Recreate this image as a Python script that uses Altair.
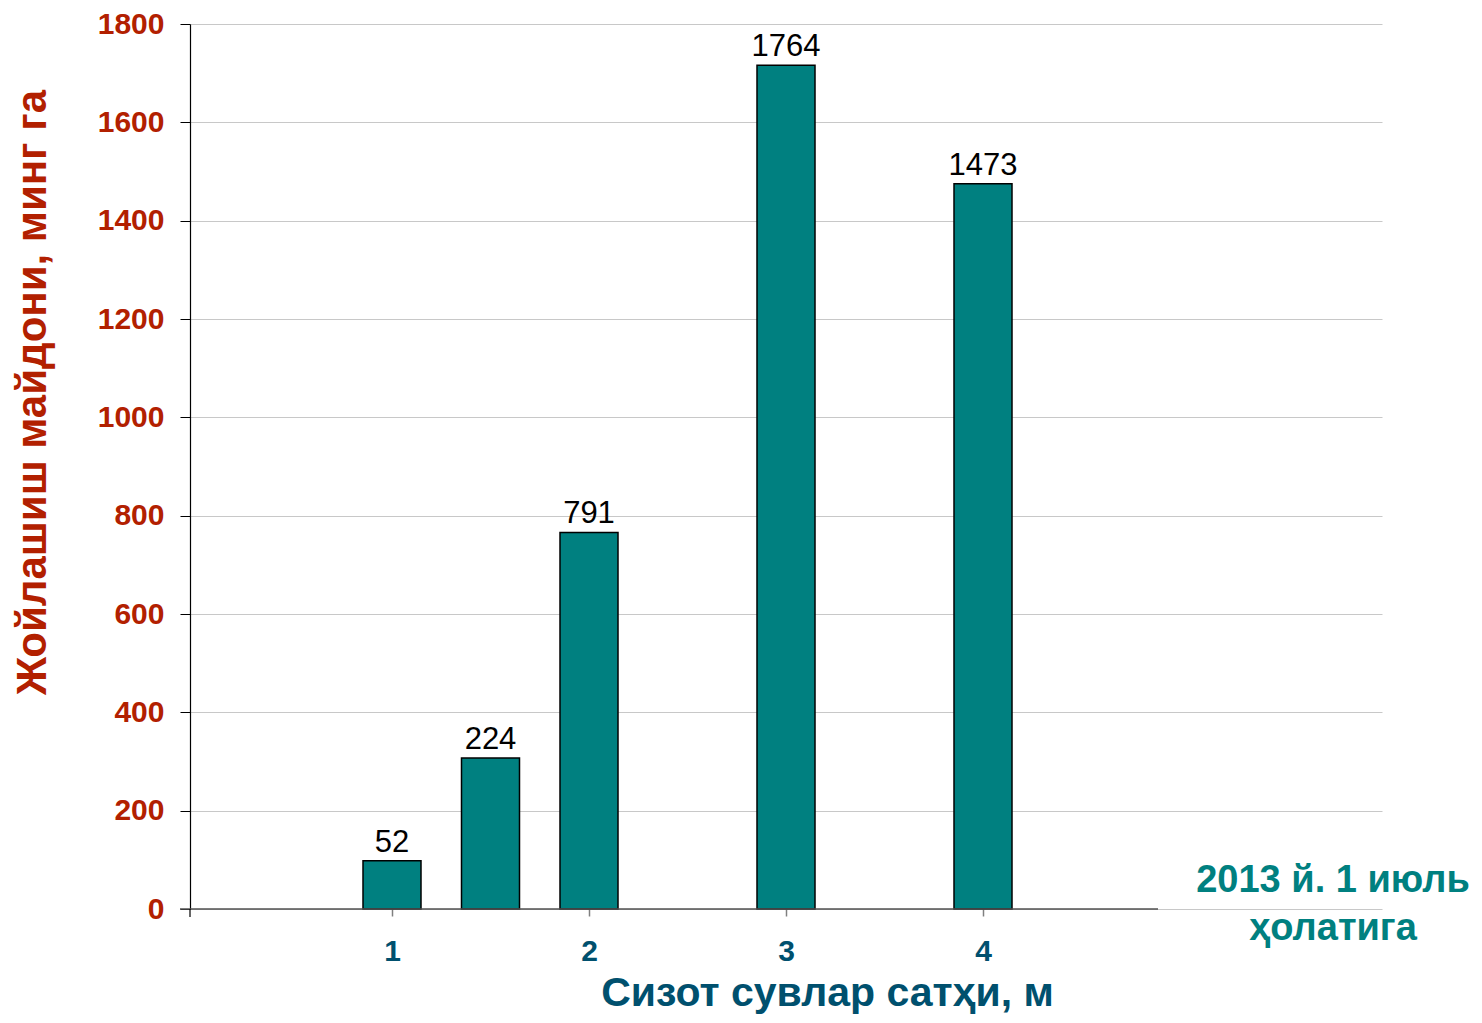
import altair as alt
import pandas as pd

# Data
levels = [1, 1.5, 2, 3, 4]            # groundwater level, m (bar positions)
bar_heights = [98, 307, 766, 1716, 1475]  # bar heights as drawn
bar_labels = ["52", "224", "791", "1764", "1473"]  # printed data labels
x_ticks = [1, 2, 3, 4]
y_ticks = [0, 200, 400, 600, 800, 1000, 1200, 1400, 1600, 1800]
note_lines = ["2013 й. 1 июль", "ҳолатига"]

df = pd.DataFrame({"level": levels, "area": bar_heights, "label": bar_labels})

FONT = "Liberation Sans"
RED = "#B22000"
BLUE = "#00506E"
TEAL = "#008080"

W, H = 1192, 885

x_scale = alt.Scale(domain=[0, 6], nice=False, zero=True)
y_scale = alt.Scale(domain=[0, 1800], nice=False)

base = alt.Chart(df)

bars = base.mark_bar(size=58, color=TEAL, stroke="black", strokeWidth=1.5).encode(
    x=alt.X(
        "level:Q",
        scale=x_scale,
        axis=alt.Axis(
            values=x_ticks,
            format="d",
            domain=False,
            grid=False,
            ticks=True,
            tickSize=7,
            tickColor="#808080",
            tickWidth=1.5,
            labelFont=FONT,
            labelFontSize=30,
            labelFontWeight="bold",
            labelColor=BLUE,
            labelPadding=20,
            title="Сизот сувлар сатҳи, м",
            titleFont=FONT,
            titleFontSize=41,
            titleFontWeight="bold",
            titleColor=BLUE,
            titleX=637,
            titleY=96,
            titleBaseline="alphabetic",
        ),
    ),
    y=alt.Y(
        "area:Q",
        scale=y_scale,
        axis=alt.Axis(
            values=y_ticks,
            format="d",
            domain=True,
            domainColor="black",
            domainWidth=1.2,
            grid=True,
            gridColor="#C8C8C8",
            gridWidth=1,
            ticks=True,
            tickSize=10,
            tickColor="black",
            labelFont=FONT,
            labelFontSize=30,
            labelFontWeight="bold",
            labelColor=RED,
            labelPadding=16,
            title="Жойлашиш майдони, минг га",
            titleFont=FONT,
            titleFontSize=42,
            titleFontWeight="bold",
            titleColor=RED,
            titleX=-158,
            titleY=368,
            titleAngle=270,
            titleAlign="center",
            titleBaseline="middle",
        ),
    ),
)

labels = base.mark_text(
    font=FONT, fontSize=31, color="black", baseline="alphabetic", dy=-9
).encode(
    x=alt.X("level:Q", scale=x_scale),
    y=alt.Y("area:Q", scale=y_scale),
    text="label:N",
)

x_axis_line = alt.Chart(pd.DataFrame({"v": [0]})).mark_rule(
    color="#505050", strokeWidth=1.5
).encode(
    x=alt.value(-10),
    x2=alt.value(968),
    y=alt.Y("v:Q", scale=y_scale),
)

y_axis_ext = alt.Chart(pd.DataFrame({"v": [0]})).mark_rule(
    color="black", strokeWidth=1.2
).encode(
    x=alt.value(0),
    y=alt.value(H),
    y2=alt.value(H + 8),
)

note = alt.Chart(pd.DataFrame({"t": [note_lines]})).mark_text(
    font=FONT, fontSize=38, fontWeight="bold", color=TEAL,
    align="center", baseline="middle", lineHeight=48,
).encode(
    x=alt.value(1143),
    y=alt.value(857),
    text="t",
)

chart = (
    alt.layer(bars, labels, x_axis_line, y_axis_ext, note)
    .properties(
        width=W,
        height=H,
        autosize=alt.AutoSizeParams(type="none"),
        padding={"left": 182, "top": 16, "right": 92, "bottom": 106},
        background="white",
    )
    .configure_view(stroke=None)
)

chart.save("out.html", embed_options={"renderer": "svg", "actions": False})
